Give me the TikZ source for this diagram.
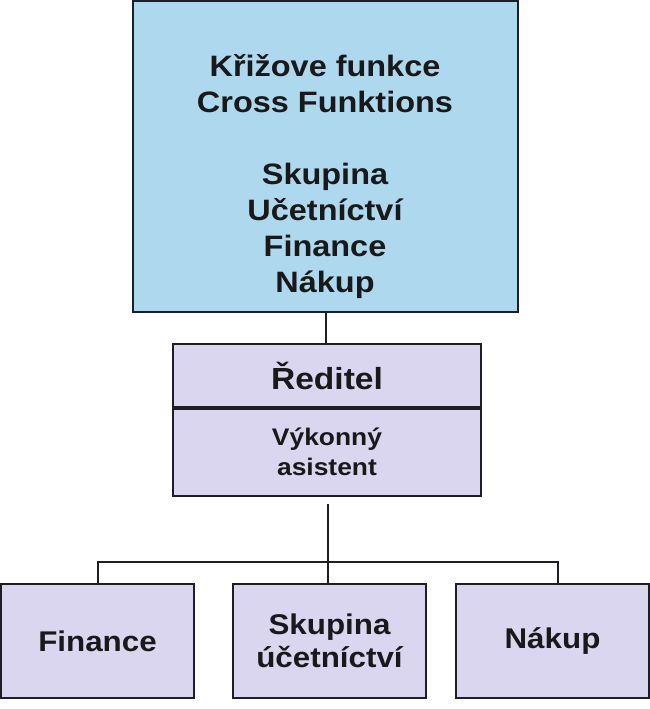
\documentclass[tikz,border=0pt]{standalone}
\usepackage{fontspec}
\setmainfont{Liberation Sans}[FakeStretch=1.1]
\usepackage{xcolor}
\usetikzlibrary{positioning,calc}

\definecolor{crossblue}{RGB}{174,216,238}
\definecolor{unitlilac}{RGB}{218,214,240}
\definecolor{edgegray}{RGB}{30,30,38}

\begin{document}
\begin{tikzpicture}[x=1pt,y=-1pt,
        every node/.style={inner sep=0pt, align=center, text=black!90},
        box/.style={draw=edgegray, line width=1.7pt, rectangle},
        crossbox/.style={box, fill=crossblue, minimum width=385pt, minimum height=311pt},
        head node/.style={box, fill=unitlilac, minimum width=308pt},
        unit node/.style={box, fill=unitlilac, minimum width=193pt, minimum height=114pt,
            font=\bfseries\fontsize{28.5}{33}\selectfont},
        link/.style={draw=edgegray, line width=2pt}]

\useasboundingbox (0,0) rectangle (650,709);

\node[crossbox] (1) at (325.5,156.5) {};
\node[font=\bfseries\fontsize{29.5}{36}\selectfont] (1t) at (325,176.5)
    {Křižove funkce\\Cross Funktions\\[36pt]Skupina\\Učetníctví\\Finance\\Nákup};

\node[head node, minimum height=63pt, font=\bfseries\fontsize{30.5}{36}\selectfont] (2) at (327,375.5) {Ředitel};
\node[head node, minimum height=87pt, anchor=north, font=\bfseries\fontsize{24}{30}\selectfont] (3) at (2.south) {Výkonný\\asistent};

\node[unit node] (4) at (97.5,641) {Finance};
\node[unit node] (5) at (329.5,641) {Skupina\\účetníctví};
\node[unit node] (6) at (552.5,641) {Nákup};

\coordinate (stem) at (328,504);
\coordinate (bar) at (328,562);

\draw[link] (1.south) -- (1.south |- 2.north);
\draw[link] (stem) -- (stem |- 5.north);
\draw[link] (4.north) |- (bar) -| ([xshift=5.5pt]6.north);

\end{tikzpicture}
\end{document}
